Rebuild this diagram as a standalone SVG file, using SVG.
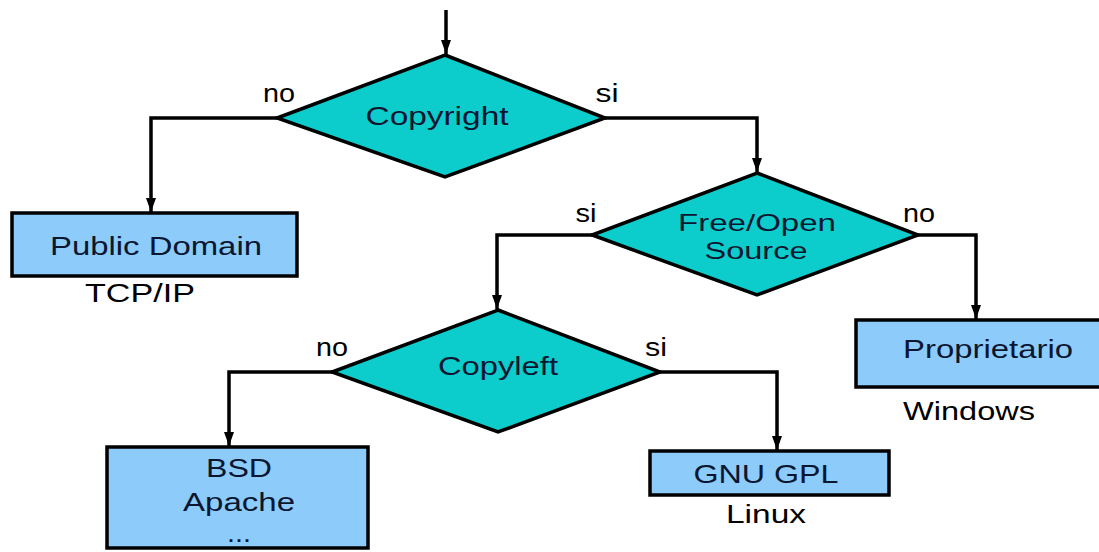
<svg xmlns="http://www.w3.org/2000/svg" width="1099" height="552" viewBox="0 0 1099 552">
<defs>
<style>
.dia{fill:#0ccccc;stroke:#000;stroke-width:3.5;stroke-linejoin:miter}
.box{fill:#8ccbfa;stroke:#000;stroke-width:3.5}
.t{font-family:"Liberation Sans",Arial,sans-serif;font-size:26px;fill:#0b1630;text-anchor:middle}
.s{font-size:24px}
.l{font-family:"Liberation Sans",Arial,sans-serif;font-size:26px;fill:#000;text-anchor:middle}
.c{fill:none;stroke:#000;stroke-width:3.5;marker-end:url(#ah)}
</style>
<marker id="ah" viewBox="0 0 14 10" refX="14" refY="5" markerWidth="14" markerHeight="10" markerUnits="userSpaceOnUse" orient="auto">
<path d="M0,0 L14,5 L0,10 Z" fill="#000"/>
</marker>
</defs>
<rect width="1099" height="552" fill="#fff"/>
<g id="connectors">
<path class="c" d="M446,10 V54"/>
<path class="c" d="M277,118 H151 V212"/>
<path class="c" d="M605,118 H757 V172"/>
<path class="c" d="M592,235 H497 V309"/>
<path class="c" d="M918,235 H976 V319"/>
<path class="c" d="M332,372 H229 V446"/>
<path class="c" d="M660,372 H777 V450"/>
<text class="l" x="279" y="102" textLength="32" lengthAdjust="spacingAndGlyphs">no</text>
<text class="l" x="607" y="102" textLength="23" lengthAdjust="spacingAndGlyphs">si</text>
<text class="l" x="586" y="222" textLength="21" lengthAdjust="spacingAndGlyphs">si</text>
<text class="l" x="919" y="222" textLength="32" lengthAdjust="spacingAndGlyphs">no</text>
<text class="l" x="332" y="356" textLength="32" lengthAdjust="spacingAndGlyphs">no</text>
<text class="l" x="656" y="356" textLength="22" lengthAdjust="spacingAndGlyphs">si</text>
</g>
<g id="copyright">
<polygon class="dia" points="445,55 605,118 445,177 277,118"/>
<text class="t" x="437" y="125" textLength="143" lengthAdjust="spacingAndGlyphs">Copyright</text>
</g>
<g id="freeopen">
<polygon class="dia" points="757,173 918,235 757,295 592,235"/>
<text class="t s" x="757" y="231" textLength="158" lengthAdjust="spacingAndGlyphs">Free/Open</text>
<text class="t s" x="756" y="259" textLength="103" lengthAdjust="spacingAndGlyphs">Source</text>
</g>
<g id="copyleft">
<polygon class="dia" points="498,310 660,372 498,432 332,372"/>
<text class="t" x="498" y="375" textLength="120" lengthAdjust="spacingAndGlyphs">Copyleft</text>
</g>
<g id="publicdomain">
<rect class="box" x="12" y="213" width="285" height="63"/>
<text class="t" x="156" y="255" textLength="212" lengthAdjust="spacingAndGlyphs">Public Domain</text>
<text class="l" x="140" y="302" textLength="110" lengthAdjust="spacingAndGlyphs">TCP/IP</text>
</g>
<g id="proprietario">
<rect class="box" x="856" y="320" width="250" height="67"/>
<text class="t" x="988" y="358" textLength="170" lengthAdjust="spacingAndGlyphs">Proprietario</text>
<text class="l" x="969" y="420" textLength="132" lengthAdjust="spacingAndGlyphs">Windows</text>
</g>
<g id="bsd">
<rect class="box" x="107" y="447" width="261" height="101"/>
<text class="t" x="239" y="477" textLength="66" lengthAdjust="spacingAndGlyphs">BSD</text>
<text class="t" x="239" y="511" textLength="112" lengthAdjust="spacingAndGlyphs">Apache</text>
<text class="t" x="239" y="542" textLength="24" lengthAdjust="spacingAndGlyphs">...</text>
</g>
<g id="gnugpl">
<rect class="box" x="650" y="451" width="239" height="44"/>
<text class="t" x="766" y="483" textLength="145" lengthAdjust="spacingAndGlyphs">GNU GPL</text>
<text class="l" x="766" y="523" textLength="80" lengthAdjust="spacingAndGlyphs">Linux</text>
</g>
</svg>
